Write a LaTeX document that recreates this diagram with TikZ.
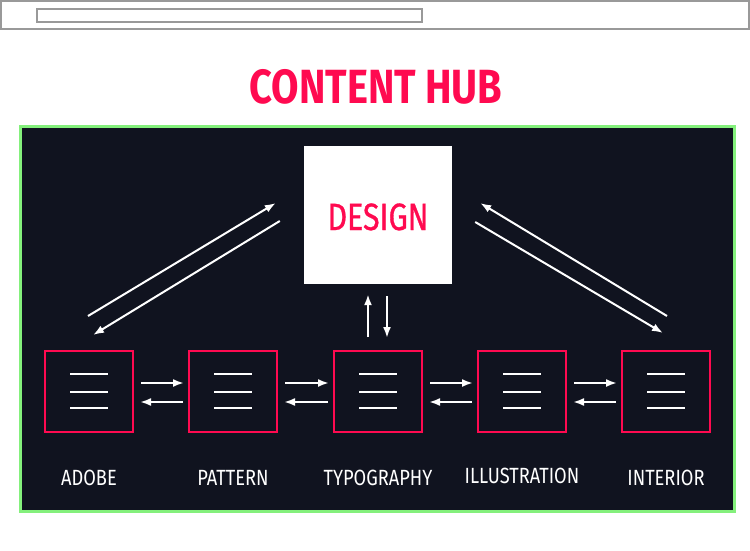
\documentclass[tikz,border=0pt]{standalone}
\usepackage{fontspec}
\setmainfont{Fira Sans}
\newfontfamily\hubfont[FakeStretch=0.83]{Fira Sans}
\newfontfamily\designfont[FakeStretch=0.8, FakeBold=0.8]{Fira Sans}
\usetikzlibrary{arrows.meta}
\definecolor{hubred}{HTML}{FF0A50}
\definecolor{hubnavy}{HTML}{10131F}
\definecolor{hubgreen}{HTML}{84F07C}
\definecolor{bargray}{HTML}{999999}

\begin{document}
\begin{tikzpicture}[x=1pt, y=-1pt,
  topic/.style={draw=hubred, line width=2pt, minimum width=88pt, minimum height=81pt, inner sep=0pt},
  flow/.style={white, line width=2pt, -{Latex[length=11pt,width=8pt]}},
  menuline/.style={white, line width=2pt},
  caption/.style={white, font=\hubfont\fontsize{22}{22}\selectfont, anchor=base}]
\useasboundingbox (0,0) rectangle (750,550);
% browser bar
\draw[bargray, line width=2pt] (1,1) rectangle (749,29);
\draw[bargray, line width=2pt] (37,9) rectangle (422,22);
\node[hubred, anchor=base, font=\hubfont\bfseries\fontsize{48}{48}\selectfont] (title) at (376,103) {CONTENT HUB};
% panel
\draw[hubgreen, fill=hubnavy, line width=3pt] (20.5,126.5) rectangle (734.5,511.5);
\node[fill=white, minimum width=148pt, minimum height=138pt, inner sep=0pt] (design) at (378,215) {};
\node[hubred, anchor=base, font=\designfont\fontsize{38}{38}\selectfont] (designtext) at (378,230) {DESIGN};
% topics
\foreach \name/\x/\dy/\text in {adobe/89/0/ADOBE, pattern/233/0/PATTERN, typography/378/0/TYPOGRAPHY,
    illustration/522/2/ILLUSTRATION, interior/666/0/INTERIOR} {
  \node[topic] (\name) at (\x,391.5) {};
  \draw[menuline] ([xshift=-19pt,yshift=17.5pt]\name.center) -- ++(38,0);
  \draw[menuline] ([xshift=-19pt]\name.center) -- ++(38,0);
  \draw[menuline] ([xshift=-19pt,yshift=-16.5pt]\name.center) -- ++(38,0);
  \node[caption] (\name-label) at (\x,485-\dy) {\text};
}
% neighbours
\foreach \a/\b in {adobe/pattern, pattern/typography, typography/illustration, illustration/interior} {
  \draw[flow] ([xshift=7pt,yshift=8.5pt]\a.east) -- ([xshift=-4pt,yshift=8.5pt]\b.west);
  \draw[flow] ([xshift=-5pt,yshift=-10.5pt]\b.west) -- ([xshift=6pt,yshift=-10.5pt]\a.east);
}
% to and from design
\draw[flow] ([xshift=-10pt,yshift=13pt]typography.north) -- ([xshift=-10pt,yshift=-10pt]design.south);
\draw[flow] ([xshift=9pt,yshift=-12pt]design.south) -- ([xshift=9pt,yshift=12pt]typography.north);
\draw[flow] ([xshift=-1pt,yshift=34pt]adobe.north) -- ([xshift=-28pt,yshift=12pt]design.west);
\draw[flow] ([xshift=-24pt,yshift=-6pt]design.west) -- ([xshift=4pt,yshift=15pt]adobe.north);
\draw[flow] ([xshift=1pt,yshift=34pt]interior.north) -- ([xshift=28pt,yshift=12pt]design.east);
\draw[flow] ([xshift=23pt,yshift=-7pt]design.east) -- ([xshift=-3pt,yshift=17pt]interior.north);
\end{tikzpicture}
\end{document}
